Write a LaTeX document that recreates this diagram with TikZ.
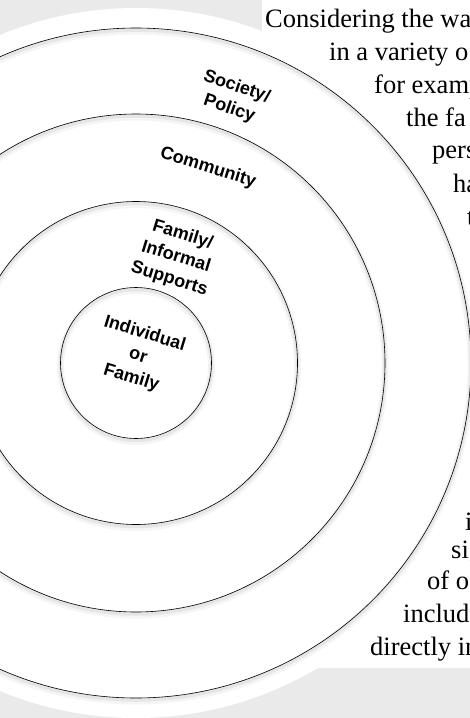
\documentclass[tikz,border=0pt]{standalone}
\usepackage{fontspec}
\setmainfont{Liberation Serif}
\setsansfont{Liberation Sans}
\definecolor{backdrop}{RGB}{234,234,235}
\begin{document}
\begin{tikzpicture}
[x=1pt,y=-1pt,
ring/.style={circle,draw=black,line width=0.6pt,inner sep=0pt},
halo/.style={circle,draw=black,inner sep=0pt},
level label/.style={font=\sffamily\bfseries\fontsize{18}{23}\selectfont,align=center,rotate=-17,inner sep=0pt},
prose/.style={font=\fontsize{26.5}{33}\selectfont,anchor=base west,inner sep=0pt}]

\useasboundingbox (0,0) rectangle (470,718);
\clip (0,0) rectangle (470,718);
\fill[backdrop] (0,0) rectangle (470,718);
\coordinate (centre) at (136,363);
\fill[white] (centre) circle[radius=355];
\fill[white] (262,0) rectangle (470,668);

% rings with soft shadow
\foreach \r/\n in {335/4,249/3,161.5/2,75.5/1}{
  \node[halo,minimum size=2*\r pt,line width=7pt,draw opacity=0.04] at ([yshift=-3pt]centre) {};
  \node[halo,minimum size=2*\r pt,line width=3.5pt,draw opacity=0.06] at ([yshift=-2pt]centre) {};
  \node[ring,minimum size=2*\r pt] (ring\n) at (centre) {};
}

% level labels
\node[level label,rotate=-2] (society) at (233,98) {Society/\\Policy};
\node[level label] (community) at (208,168) {Community};
\node[level label] (informal) at (176,257) {Family/\\Informal\\Supports};
\node[level label] (individual) at (138,356) {Individual\\or\\Family};

% text running beside the outer ring
\foreach \x/\y/\t [count=\i] in {265/27/Considering the wa,329/60/in a variety o,374/93/for examp,406/126/the fa,432/158/pers,453/192/ha,467/225/t,465/530/i,451/558/sig,427/589/of o,403/622/includ,370/655/directly in}
  \node[prose] (line\i) at (\x,\y) {\t};
\end{tikzpicture}
\end{document}
